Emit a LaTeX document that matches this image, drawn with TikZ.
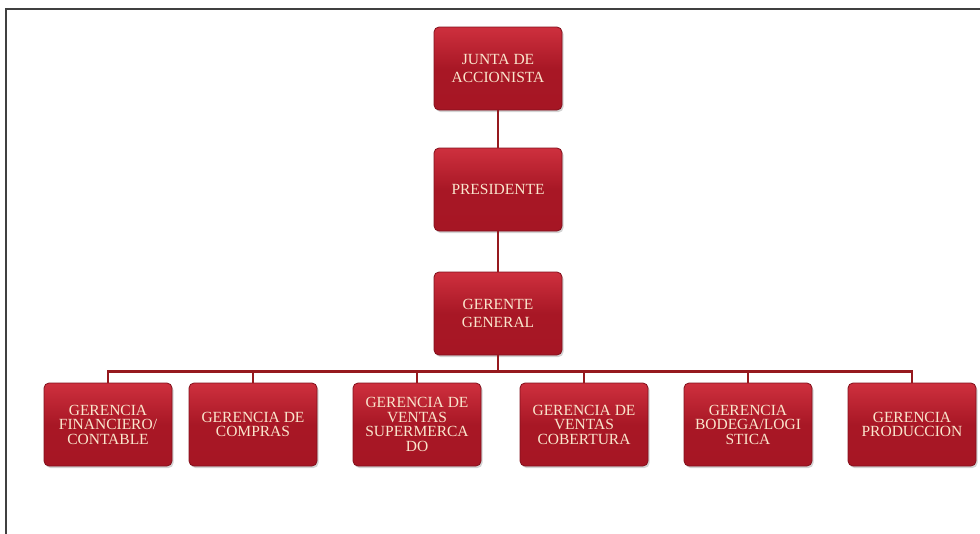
\documentclass[tikz,border=0pt]{standalone}
\usepackage{fontspec}
\setmainfont{Liberation Serif}
\usetikzlibrary{shadows}
\definecolor{boxtop}{RGB}{206,48,62}
\definecolor{boxbottom}{RGB}{166,22,36}
\definecolor{boxedge}{RGB}{130,16,28}
\definecolor{linkred}{RGB}{150,25,30}
\definecolor{boxtext}{RGB}{250,230,205}
\begin{document}
\begin{tikzpicture}[
		x=1pt, y=1pt,
		node distance=121pt,
		box node/.style={rectangle, rounded corners=5pt, draw=boxedge, line width=0.8pt,
			top color=boxtop, bottom color=boxbottom, middle color=boxbottom!95!boxtop,
			drop shadow={opacity=0.35, shadow xshift=1.5pt, shadow yshift=-2pt},
			minimum width=128pt, minimum height=83pt, inner sep=2pt,
			text=boxtext, align=center, font=\fontsize{15.5}{14.5}\selectfont},
		head node/.style={box node, font=\fontsize{15.5}{17.5}\selectfont},
		link/.style={draw=linkred, line width=2.8pt}
	]
		\useasboundingbox (0,0) rectangle (980,-533);
		% frame
		\draw[black!75, line width=1.6pt] (6,-540) -- (6,-9) -- (990,-9);

		\node[head node] (jun) at (498,-68.5) {JUNTA DE\\ACCIONISTA};
		\node[head node,below of=jun] (pres) {PRESIDENTE};
		\node[head node,below of=pres,yshift=-3pt] (gg) {GERENTE\\GENERAL};

		\node[box node] (g1) at (108,-424.5) {GERENCIA\\FINANCIERO/\\CONTABLE};
		\node[box node,right of=g1,xshift=24pt] (g2) {GERENCIA DE\\COMPRAS};
		\node[box node,right of=g2,xshift=43pt] (g3) {GERENCIA DE\\VENTAS\\SUPERMERCA\\DO};
		\node[box node,right of=g3,xshift=46pt] (g4) {GERENCIA DE\\VENTAS\\COBERTURA};
		\node[box node,right of=g4,xshift=43pt] (g5) {GERENCIA\\BODEGA/LOGI\\STICA};
		\node[box node,right of=g5,xshift=43pt] (g6) {GERENCIA\\PRODUCCION};

		\draw[link] (jun.south) -- (pres.north);
		\draw[link] (pres.south) -- (gg.north);

		\foreach \i in {1,...,6} {
			\draw[link] (gg.south) -- ++(0,-16) -| (g\i.north);
		}

	\end{tikzpicture}
\end{document}
